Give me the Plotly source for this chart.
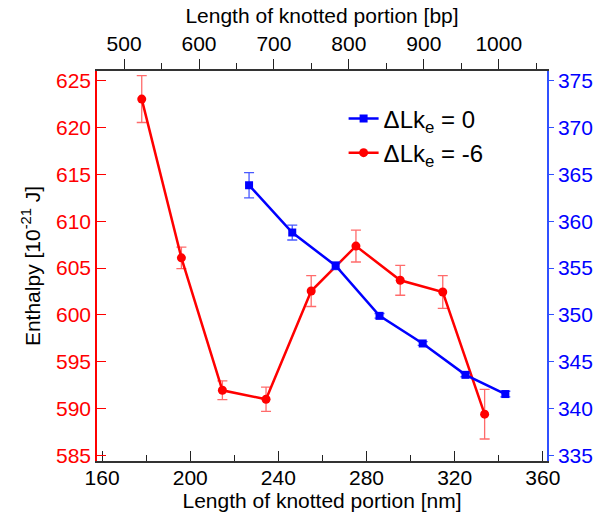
import plotly.graph_objects as go

# Data
red_nm = [178.0, 196.0, 214.6, 234.4, 254.9, 275.2, 295.3, 314.6, 333.6]
red_H = [623.05, 606.1, 591.95, 591.0, 602.55, 607.35, 603.7, 602.45, 589.4]
red_err = [2.5, 1.15, 1.0, 1.3, 1.65, 1.7, 1.6, 1.75, 2.65]

blue_nm = [226.7, 246.3, 266.0, 285.9, 305.5, 324.9, 343.0]
blue_H = [363.85, 358.8, 355.25, 349.9, 346.95, 343.6, 341.55]
blue_err = [1.35, 0.8, 0.4, 0.25, 0.2, 0.2, 0.3]

NM_PER_BP = 0.34
x_range = [157.7, 361.9]
yl_range = [584.4, 626.05]
yr_range = [334.4, 376.05]

RED = "#ff0000"
BLUE = "#0000ff"
FONT = "Liberation Sans, Arial, sans-serif"
FS = 21

fig = go.Figure()

fig.add_trace(go.Scatter(
    x=red_nm, y=red_H, mode="lines+markers", name="ΔLk<sub>e</sub> = -6",
    line=dict(color=RED, width=2.5),
    marker=dict(symbol="circle", size=9, color=RED),
    error_y=dict(type="data", array=red_err, color="rgba(255,70,70,0.8)", thickness=1.3, width=5),
    xaxis="x", yaxis="y", legendrank=2,
))

fig.add_trace(go.Scatter(
    x=blue_nm, y=blue_H, mode="lines+markers", name="ΔLk<sub>e</sub> = 0",
    line=dict(color=BLUE, width=2.5),
    marker=dict(symbol="square", size=8, color=BLUE),
    error_y=dict(type="data", array=blue_err, color="rgba(40,60,255,0.85)", thickness=1.3, width=5),
    xaxis="x", yaxis="y2", legendrank=1,
))

# invisible helper trace for the top (bp) axis
fig.add_trace(go.Scatter(
    x=[v / NM_PER_BP for v in red_nm], y=red_H, mode="markers",
    marker=dict(opacity=0), showlegend=False, hoverinfo="skip",
    xaxis="x2", yaxis="y",
))

fig.update_layout(
    width=604, height=529,
    margin=dict(l=97, r=57, t=71, b=68),
    paper_bgcolor="white", plot_bgcolor="white",
    font=dict(family=FONT, size=FS, color="black"),
    showlegend=True,
    legend=dict(
        x=0.548, y=0.935, xanchor="left", yanchor="top",
        bgcolor="rgba(0,0,0,0)", font=dict(size=24),
        tracegroupgap=0, itemwidth=30,
    ),
    xaxis=dict(
        range=x_range, side="bottom", tickmode="linear", tick0=160, dtick=40,
        ticks="inside", ticklen=10, tickwidth=1.2, tickcolor="#222",
        minor=dict(dtick=20, tick0=160, ticks="inside", ticklen=6, tickwidth=1.2, tickcolor="#222"),
        showline=True, linecolor="#333", linewidth=1.5, showgrid=False, zeroline=False,
        title=dict(text="Length of knotted portion [nm]", font=dict(size=FS), standoff=0),
        tickfont=dict(size=FS, color="black"), automargin=False, ticklabelstandoff=-3,
    ),
    xaxis2=dict(
        range=[x_range[0] / NM_PER_BP, x_range[1] / NM_PER_BP], overlaying="x", side="top",
        anchor="y", tickmode="linear", tick0=500, dtick=100,
        ticks="outside", ticklen=10, tickwidth=1.2, tickcolor="#222",
        minor=dict(dtick=50, tick0=500, ticks="outside", ticklen=6, tickwidth=1.2, tickcolor="#222"),
        showline=True, linecolor="#333", linewidth=1.5, showgrid=False, zeroline=False,
        title=dict(text="Length of knotted portion [bp]", font=dict(size=FS), standoff=2),
        tickfont=dict(size=FS, color="black"), automargin=False,
    ),
    yaxis=dict(
        range=yl_range, side="left", tickmode="linear", tick0=585, dtick=5,
        ticks="inside", ticklen=9, tickwidth=1.2, tickcolor=RED,
        showline=True, linecolor=RED, linewidth=1.5, showgrid=False, zeroline=False,
        tickfont=dict(size=FS, color=RED), automargin=False,
        title=dict(text="Enthalpy [10<sup>-21</sup> J]", font=dict(size=FS, color="black"), standoff=10),
    ),
    yaxis2=dict(
        range=yr_range, side="right", overlaying="y", anchor="x", tickmode="linear", tick0=335, dtick=5,
        ticks="outside", ticklen=5, tickwidth=1.2, tickcolor="#3050ff",
        showline=True, linecolor="#3050ff", linewidth=1.5, showgrid=False, zeroline=False,
        tickfont=dict(size=FS, color=BLUE), automargin=False,
    ),
)

fig.write_html(
    "out.html",
    config={"displayModeBar": False},
    post_script="document.body.style.margin='0';document.body.style.padding='0';document.body.style.overflow='hidden';",
)
